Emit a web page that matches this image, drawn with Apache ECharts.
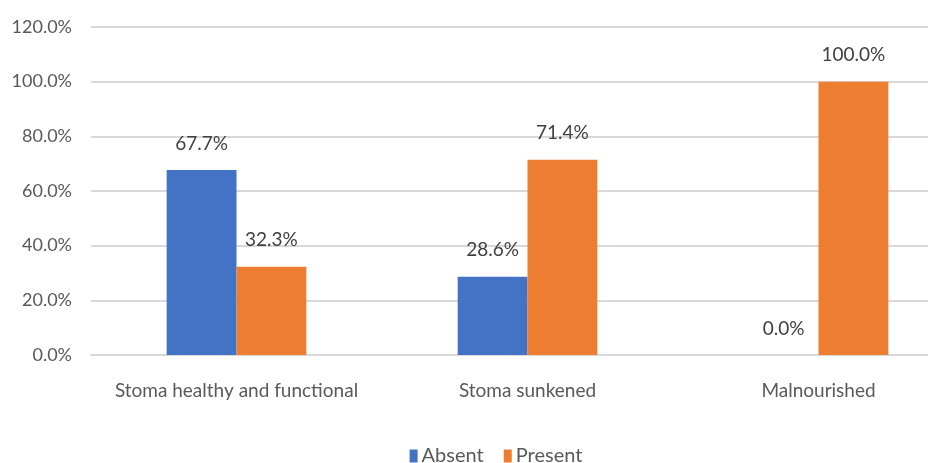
<!DOCTYPE html>
<html>
<head>
<meta charset="utf-8">
<script src="https://cdn.jsdelivr.net/npm/echarts@6/dist/echarts.min.js"></script>
<style>
  html, body { margin: 0; padding: 0; background: #fff; overflow: hidden; width: 928px; height: 463px; }
  /* the figure is wider than the page; its right edge is cut off */
  #chart { width: 992px; height: 463px; }
</style>
</head>
<body>
<div id="chart"></div>
<script>
// Stoma condition by status (percent of cases)
const categories = ['Stoma healthy and functional', 'Stoma sunkened', 'Malnourished'];
const absentValues = [67.7, 28.6, 0.0];
const presentValues = [32.3, 71.4, 100.0];
const seriesNames = ['Absent', 'Present'];

const FONT = 'Lato, "Open Sans", sans-serif';
const pct = v => Number(v).toFixed(1) + '%';

const labelStyle = {
  show: true,
  position: 'top',
  distance: 17,
  color: '#404040',
  fontFamily: FONT,
  fontSize: 19,
  formatter: p => pct(p.value)
};

const chart = echarts.init(document.getElementById('chart'), null, { renderer: 'canvas' });
chart.setOption({
  animation: false,
  color: ['#4472C4', '#ED7D31'],
  grid: { left: 91, width: 873, top: 27, height: 328, containLabel: false },
  legend: {
    data: seriesNames,
    top: 441,
    left: 'center',
    itemWidth: 8,
    itemHeight: 13,
    itemGap: 20,
    icon: 'rect',
    textStyle: { color: '#595959', fontFamily: FONT, fontSize: 20, padding: [0, 0, 0, -1] }
  },
  xAxis: {
    type: 'category',
    data: categories,
    axisLine: { show: true, lineStyle: { color: '#d9d9d9', width: 2 } },
    axisTick: { show: false },
    axisLabel: { interval: 0, color: '#595959', fontFamily: FONT, fontSize: 19, margin: 26 }
  },
  yAxis: {
    type: 'value',
    min: 0,
    max: 120,
    interval: 20,
    axisLine: { show: false },
    axisTick: { show: false },
    splitLine: { lineStyle: { color: '#d9d9d9', width: 2 } },
    axisLabel: { color: '#595959', fontFamily: FONT, fontSize: 18, margin: 19, formatter: v => pct(v) }
  },
  series: [
    {
      name: seriesNames[0],
      type: 'bar',
      data: absentValues,
      barGap: '0%',
      barCategoryGap: '52%',
      label: labelStyle
    },
    {
      name: seriesNames[1],
      type: 'bar',
      data: presentValues,
      barGap: '0%',
      barCategoryGap: '52%',
      label: labelStyle
    }
  ]
});
</script>
</body>
</html>
